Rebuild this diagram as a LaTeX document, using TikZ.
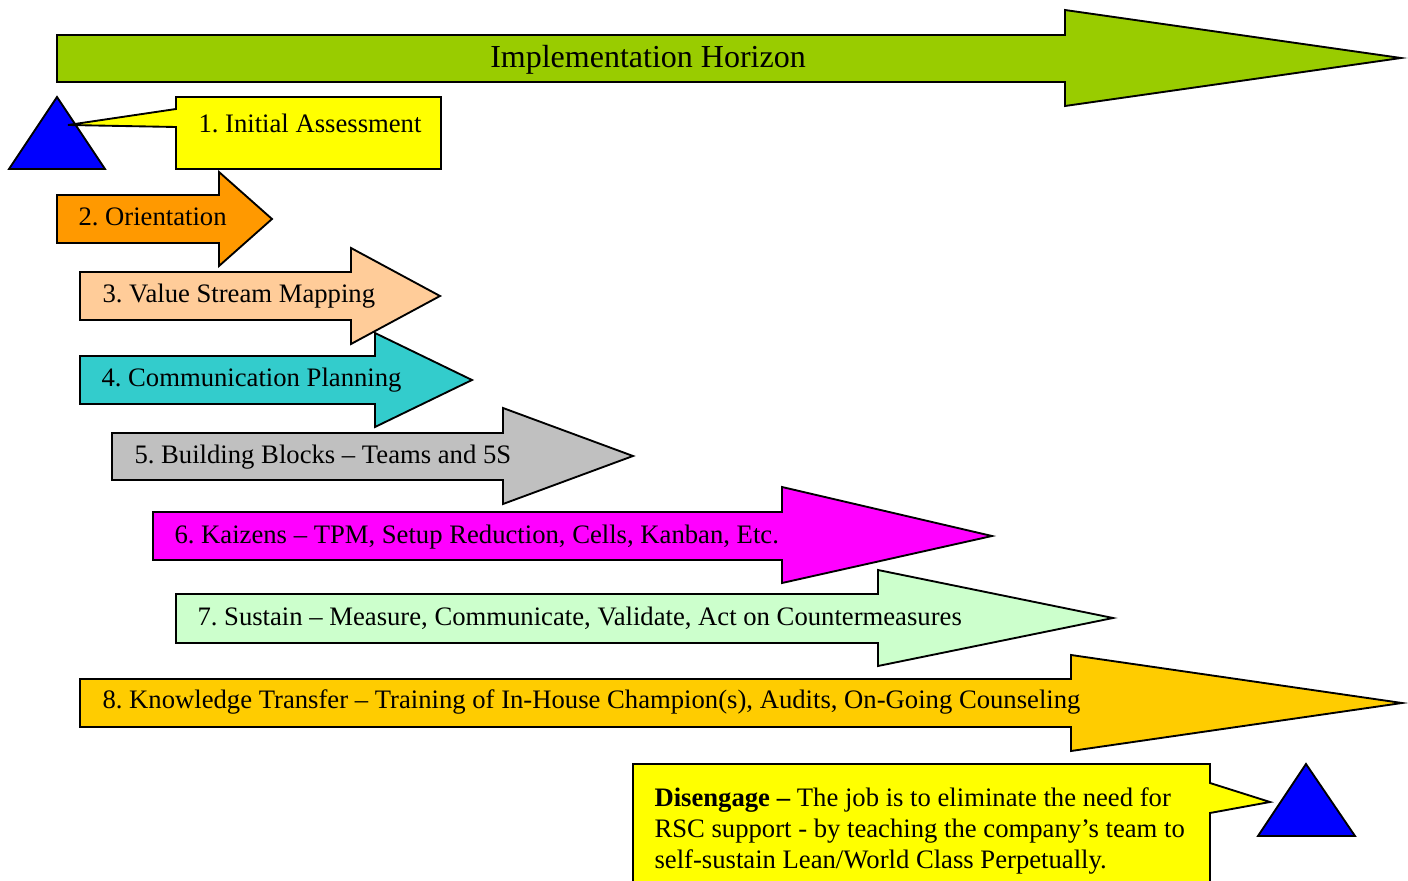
\documentclass[tikz,border=0pt]{standalone}
\usepackage{fontspec}
\setmainfont{Liberation Serif}
\frenchspacing
\definecolor{cgreen}{HTML}{99CC00}
\definecolor{cyellow}{HTML}{FFFF00}
\definecolor{cblue}{HTML}{0000FF}
\definecolor{corange}{HTML}{FF9900}
\definecolor{cpeach}{HTML}{FFCC99}
\definecolor{cteal}{HTML}{33CCCC}
\definecolor{cgray}{HTML}{C0C0C0}
\definecolor{cmagenta}{HTML}{FF00FF}
\definecolor{clgreen}{HTML}{CCFFCC}
\definecolor{cgold}{HTML}{FFCC00}
\begin{document}
\begin{tikzpicture}[x=0.375pt,y=-0.375pt,
  shp/.style={draw=black, line width=0.7pt, line join=miter},
  lbl/.style={anchor=base west, inner sep=0pt, font=\fontsize{10}{11.6}\selectfont}]
\useasboundingbox (0,0) rectangle (1408,881);
\clip (0,0) rectangle (1408,881);
% Implementation horizon
\draw[shp, fill=cgreen] (57,35) -- (1065,35) -- (1065,10) -- (1401,58) -- (1065,106) -- (1065,82) -- (57,82) -- cycle;
\node[anchor=base, inner sep=0pt, font=\fontsize{12}{14}\selectfont] (hz) at (648,68) {Implementation Horizon};
% start triangle and callout
\draw[shp, fill=cblue] (57,97) -- (105,169) -- (9,169) -- cycle;
\draw[shp, fill=cyellow] (176,97) -- (441,97) -- (441,169) -- (176,169) -- (176,127) -- (68,125) -- (176,109) -- cycle;
\node[lbl] (s1) at (198,133) {1. Initial Assessment};
% 2
\draw[shp, fill=corange] (57,195) -- (219,195) -- (219,172) -- (272,219) -- (219,266) -- (219,243) -- (57,243) -- cycle;
\node[lbl] (s2) at (78,226) {2. Orientation};
% 3
\draw[shp, fill=cpeach] (80,272) -- (351,272) -- (351,248) -- (440,296) -- (351,344) -- (351,320) -- (80,320) -- cycle;
\node[lbl] (s3) at (102,303) {3. Value Stream Mapping};
% 4
\draw[shp, fill=cteal] (80,356) -- (375,356) -- (375,333) -- (472,380) -- (375,427) -- (375,404) -- (80,404) -- cycle;
\node[lbl] (s4) at (101,386) {4. Communication Planning};
% 5
\draw[shp, fill=cgray] (112,433) -- (503,433) -- (503,408) -- (633,456) -- (503,504) -- (503,480) -- (112,480) -- cycle;
\node[lbl] (s5) at (134,463) {5. Building Blocks -- Teams and 5S};
% 6
\draw[shp, fill=cmagenta] (153,512) -- (782,512) -- (782,487) -- (992,536) -- (782,583) -- (782,560) -- (153,560) -- cycle;
\node[lbl] (s6) at (174,543) {6. Kaizens -- TPM, Setup Reduction, Cells, Kanban, Etc.};
% 7
\draw[shp, fill=clgreen] (176,594) -- (878,594) -- (878,570) -- (1113,618) -- (878,666) -- (878,643) -- (176,643) -- cycle;
\node[lbl] (s7) at (197,625) {7. Sustain -- Measure, Communicate, Validate, Act on Countermeasures};
% 8
\draw[shp, fill=cgold] (80,679) -- (1071,679) -- (1071,655) -- (1402,703) -- (1071,751) -- (1071,727) -- (80,727) -- cycle;
\node[lbl] (s8) at (102,708) {8. Knowledge Transfer -- Training of In-House Champion(s), Audits, On-Going Counseling};
% disengage callout and triangle
\draw[shp, fill=cyellow] (633,764) -- (1210,764) -- (1210,783) -- (1270,802) -- (1210,813) -- (1210,900) -- (633,900) -- cycle;
\node[anchor=base west, inner sep=0pt, align=left, font=\fontsize{10}{11.6}\selectfont] (dis) at (654,868)
  {\textbf{Disengage --} The job is to eliminate the need for\\RSC support - by teaching the company’s team to\\self-sustain Lean/World Class Perpetually.};
\draw[shp, fill=cblue] (1306,764) -- (1355,836) -- (1258,836) -- cycle;
\end{tikzpicture}
\end{document}
